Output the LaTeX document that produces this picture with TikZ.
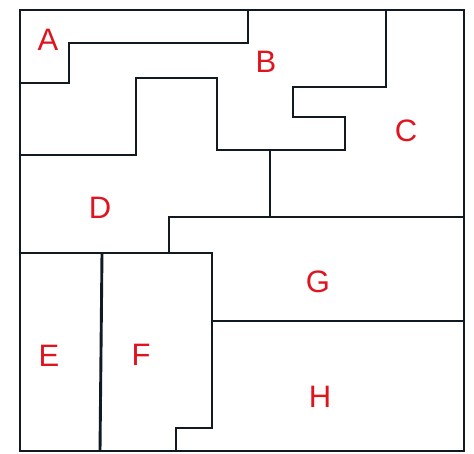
\documentclass[tikz,border=0pt]{standalone}
\usepackage{fontspec}
\usepackage{tikz}
\usepackage{xcolor}
\setsansfont{Liberation Sans}
\definecolor{ink}{HTML}{111A22}
\definecolor{pen}{HTML}{E0141E}
\tikzset{
  wall/.style={draw=ink,line width=2.9pt,line join=miter},
  roomlabel/.style={text=pen,inner sep=0pt,
                    font=\sffamily\fontsize{31}{31}\selectfont}
}

\begin{document}
\begin{tikzpicture}[x=1pt,y=-1pt]
  \useasboundingbox (0,0) rectangle (474,454);
  % outer frame
  \draw[wall] (20,10) rectangle (464,451);
  % room borders
  \draw[wall] (248,10) -- (248,43) -- (69,43) -- (69,83) -- (20,83);
  \draw[wall] (20,155) -- (136,155) -- (136,78) -- (217,78) -- (217,150)
              -- (345,150) -- (345,117) -- (293,117) -- (293,87) -- (386,87) -- (386,10);
  \draw[wall] (270,150) -- (270,217);
  \draw[wall] (464,217) -- (169,217) -- (169,253);
  \draw[wall] (20,253) -- (212,253) -- (212,428) -- (176,428) -- (176,451);
  \draw[wall] (102,253) -- (100,451);
  \draw[wall] (212,321) -- (464,321);
  % room names
  \node[roomlabel] (a) at (48,40) {A};
  \node[roomlabel] (b) at (266,62) {B};
  \node[roomlabel] (c) at (406,131) {C};
  \node[roomlabel] (d) at (100,208) {D};
  \node[roomlabel] (e) at (49,356) {E};
  \node[roomlabel] (f) at (141,355) {F};
  \node[roomlabel] (g) at (318,282) {G};
  \node[roomlabel] (h) at (320,397) {H};
\end{tikzpicture}
\end{document}
